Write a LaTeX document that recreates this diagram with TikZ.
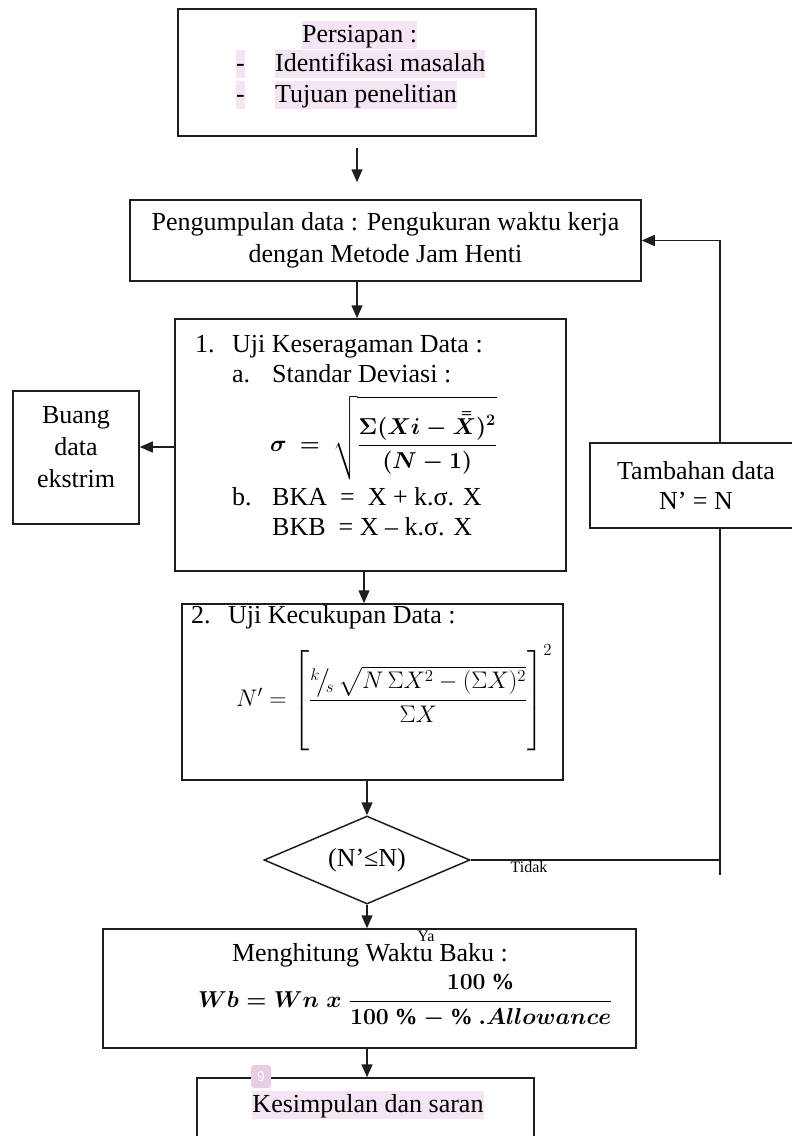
\RequirePackage{fix-cm}
\documentclass[tikz,border=0pt]{standalone}
\usepackage{amsmath,amssymb}
\usepackage{fontspec}
\setmainfont{Liberation Serif}
\newfontfamily\pgfont{Liberation Sans}
\usetikzlibrary{arrows.meta,shapes.geometric}
\definecolor{hl}{RGB}{243,229,243}
\definecolor{mk}{RGB}{230,205,230}
\definecolor{ink}{RGB}{30,30,30}
\newcommand{\sigF}{\mbox{\boldmath$\sigma\ =\ \sqrt{\dfrac{\rule{0pt}{1.3em}\Sigma(Xi-\bar{\bar{X}})^{2}}{(N-1)}}$}}
\newcommand{\nF}{\mbox{$N' = \left[\rule[-41pt]{0pt}{98pt}\dfrac{{}^{k}\!\big/\!{}_{s}\,\sqrt{N\,\Sigma X^{2} - (\Sigma X)^{2}}}{\Sigma X}\right]^{2}$}}
\newcommand{\wF}{\mbox{\boldmath$Wb = Wn\;x\;\dfrac{100\ \%}{100\ \% - \%\ .Allowance}$}}
\begin{document}
\begin{tikzpicture}[x=1pt,y=-1pt,
 box/.style={draw=ink,line width=1.5pt,inner sep=0pt},
 arr/.style={draw=ink,line width=1.5pt,-{Triangle[length=13pt,width=11pt]}},
 ln/.style={draw=ink,line width=1.5pt},
 txt/.style={inner sep=0pt,font=\fontsize{26}{32}\selectfont},
 hltxt/.style={txt,fill=hl,text height=21pt,text depth=7pt},
 small/.style={inner sep=0pt,font=\fontsize{16}{18}\selectfont}]
\useasboundingbox (0,0) rectangle (792,1136);
\clip (0,0) rectangle (792,1136);

% top box
\node[box,minimum width=358pt,minimum height=127pt] (top) at (357,72.5) {};
\node[hltxt,anchor=base west] (p0) at (302,42) {Persiapan :};
\node[hltxt,anchor=base west] (p1d) at (236,71) {-};
\node[hltxt,anchor=base west] (p1) at (275,71) {Identifikasi masalah};
\node[hltxt,anchor=base west] (p2d) at (236,102) {-};
\node[hltxt,anchor=base west] (p2) at (275,102) {Tujuan penelitian};

% box 2
\node[box,txt,align=center,minimum width=511pt,minimum height=81pt] (b2) at (385.5,240.5) {Pengumpulan data : Pengukuran waktu kerja\\dengan Metode Jam Henti};

% box 3
\node[box,minimum width=391pt,minimum height=252pt] (b3) at (370.5,445) {};
\node[txt,anchor=base west] (u1n) at (195,352) {1.};
\node[txt,anchor=base west] (u1) at (232,352) {Uji Keseragaman Data :};
\node[txt,anchor=base west] (ua) at (232,382) {a.};
\node[txt,anchor=base west] (uat) at (272,382) {Standar Deviasi :};
\node[inner sep=0pt,font=\fontsize{23}{28}\selectfont,anchor=west] (sig) at (270,438) {\sigF};
\node[txt,anchor=base west] (ub) at (232,505) {b.};
\node[txt,anchor=base west] (ubt) at (272,505) {BKA \ = \ X + k.σ. X};
\node[txt,anchor=base west] (ubb) at (272,535) {BKB \ = X – k.σ. X};

% buang
\node[box,minimum width=126pt,minimum height=133pt] (buang) at (76,457.5) {};
\node[txt,align=center] (bt) at (76,447) {Buang\\data\\ekstrim};

% tambahan
\node[box,inner sep=0pt,font=\fontsize{26}{30}\selectfont,align=center,minimum width=212pt,minimum height=85pt] (tam) at (696,485.5) {Tambahan data\\N’ = N};

% box 4
\node[box,minimum width=381pt,minimum height=176pt] (b4) at (372.5,692) {};
\node[txt,anchor=base west] (k2n) at (191,623) {2.};
\node[txt,anchor=base west] (k2) at (228,623) {Uji Kecukupan Data :};
\node[inner sep=0pt,font=\fontsize{24}{28}\selectfont,anchor=west] (nf) at (236,698) {\nF};

% diamond
\node[draw=ink,line width=1.5pt,shape=diamond,aspect=2.34,minimum width=206pt,minimum height=88pt,inner sep=0pt,txt] (dia) at (367,860) {(N’≤N)};

% box 5
\node[box,minimum width=533pt,minimum height=119pt] (b5) at (369.5,988.5) {};
\node[txt,anchor=base] (mw) at (370,961) {Menghitung Waktu Baku :};
\node[inner sep=0pt,font=\fontsize{23}{28}\selectfont,anchor=west] (wb) at (198,1001) {\wF};

% box 6
\node[box,minimum width=337pt,minimum height=72pt] (b6) at (365.5,1114) {};
\node[hltxt,anchor=base] (ks) at (368,1112) {Kesimpulan dan saran};
\node[fill=mk,rounded corners=3pt,minimum width=20pt,minimum height=23pt,inner sep=0pt,text=white,font=\fontsize{14}{16}\pgfont] (pg) at (261,1076.5) {9};

% labels
\node[small] (tidak) at (529,867) {Tidak};
\node[small] (ya) at (426,936) {Ya};

% connectors
\coordinate (rc) at (720,875);
\draw[arr,shorten <=11pt,shorten >=17pt] (top.south) -- (top.south |- b2.north);
\draw[arr] (top.south |- b2.south) -- (top.south |- b3.north);
\draw[arr] ([xshift=-6.5pt]b3.south) -- ([xshift=-6.5pt]b3.south |- b4.north);
\draw[arr] (dia.north |- b4.south) -- (dia.north);
\draw[arr] (dia.south) -- (dia.south |- b5.north);
\draw[arr] (dia.south |- b5.south) -- (dia.south |- b6.north);
\draw[arr] (b3.west |- bt) -- (buang.east |- bt);
\draw[ln] (dia.east) -- (dia.east -| rc);
\draw[ln] (rc) -- (rc |- tam.south);
\draw[arr] (rc |- tam.north) -- (rc |- b2.east) -- (b2.east);
\end{tikzpicture}
\end{document}
